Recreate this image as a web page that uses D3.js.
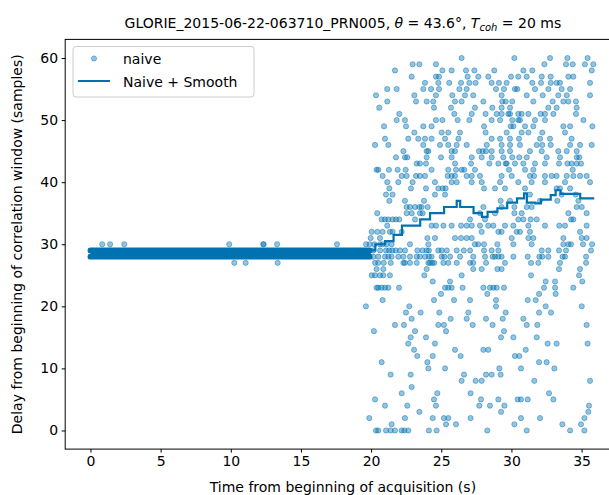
<!DOCTYPE html>
<html lang="en">
<head>
<meta charset="UTF-8">
<title>GLORIE_2015-06-22-063710_PRN005 delay</title>
<script src="https://d3js.org/d3.v7.min.js"></script>
<style>
  body { margin: 0; background: #fff; }
  svg { display: block; font-family: "DejaVu Sans", sans-serif; }
  .tick text { font-size: 14px; fill: #000; }
  .tick line { stroke: #000; }
</style>
</head>
<body>
<svg width="609" height="495"></svg>
<script>
// axis ticks
const xTicks = [0, 5, 10, 15, 20, 25, 30, 35];
const yTicks = [0, 10, 20, 30, 40, 50, 60];

// 0-20 s: the naive estimate sits on 28 / 29 samples (solid band of dots)
const bandDelays = [28, 29];
const bandTimes = [0, 19.9];

// naive estimate, one entry per delay value: [delay (samples), times (s)]
const naiveRows = [
  [60, [26.45, 30.21, 32.75, 33.99, 35.43]],
  [59, [22.96, 23.44, 24.62, 32.35, 33.89, 34.37, 35.24, 35.84]],
  [58, [21.70, 25.08, 25.74, 26.76, 27.36, 28.78, 30.85, 31.49, 35.72]],
  [57, [22.89, 24.62, 24.84, 26.88, 27.64, 28.35, 29.97, 30.49, 31.09, 32.16, 32.80, 34.06, 34.41]],
  [56, [23.84, 24.79, 25.57, 26.41, 27.00, 27.45, 28.59, 29.11, 29.66, 31.49, 32.11, 32.80, 33.22, 33.46, 35.60]],
  [55, [21.15, 21.82, 23.72, 24.27, 24.84, 26.29, 26.81, 28.90, 29.47, 30.25, 30.42, 31.68, 32.63, 33.58, 34.18]],
  [54, [20.35, 23.08, 24.62, 25.79, 26.69, 27.28, 29.30, 31.09, 32.23, 33.34, 33.94, 35.60]],
  [53, [21.15, 23.20, 23.96, 24.43, 25.98, 26.45, 28.00, 29.35, 29.59, 30.06, 31.56, 32.94, 33.70, 34.06, 34.60]],
  [52, [20.58, 24.48, 25.69, 27.40, 28.64, 29.30, 29.90, 32.63, 33.22, 34.65]],
  [51, [22.01, 25.93, 27.17, 28.16, 28.95, 29.30, 29.78, 29.90, 30.49, 30.73, 31.21, 32.08, 32.39, 32.99, 34.60]],
  [50, [21.82, 22.41, 24.62, 25.08, 26.17, 27.00, 28.59, 29.19, 30.06, 30.49, 30.61, 31.68, 32.39, 35.13]],
  [49, [20.92, 22.49, 23.72, 24.31, 28.05, 29.95, 30.14, 30.97, 31.56, 33.70, 34.18, 35.77]],
  [48, [23.08, 25.03, 25.50, 26.33, 28.16, 29.66, 30.73, 31.21, 32.20, 33.82]],
  [47, [20.99, 22.65, 23.36, 23.84, 24.31, 25.27, 26.22, 28.59, 29.19, 29.90, 30.54, 32.04, 32.75, 34.29]],
  [46, [20.28, 21.23, 23.72, 24.91, 25.50, 26.10, 26.81, 28.24, 29.30, 29.90, 30.61, 31.80, 32.20, 32.80, 34.18, 34.89, 35.72]],
  [45, [22.30, 23.96, 24.08, 25.74, 25.98, 27.69, 27.95, 28.19, 28.59, 29.30, 29.90, 31.32, 32.16, 33.34, 33.94, 34.65]],
  [44, [21.77, 22.41, 22.58, 23.96, 24.98, 25.74, 27.17, 27.88, 28.59, 29.42, 30.06, 30.56, 31.09, 32.51, 33.46, 34.65, 34.84]],
  [43, [23.25, 23.48, 23.91, 25.98, 27.12, 28.43, 29.07, 29.59, 29.66, 30.25, 30.85, 31.68, 32.39, 33.39, 33.99, 34.29, 34.65, 34.96]],
  [42, [20.39, 20.51, 21.27, 21.89, 22.46, 24.31, 25.50, 26.05, 26.45, 26.64, 27.40, 29.83, 30.97, 31.56, 34.37]],
  [41, [20.82, 22.18, 22.53, 23.20, 23.48, 23.84, 25.46, 25.74, 25.98, 26.81, 27.17, 27.76, 29.30, 30.02, 31.32, 31.61, 32.39, 32.87, 33.22, 33.94, 34.41, 34.89, 35.36]],
  [40, [21.15, 21.94, 22.96, 24.55, 25.74, 26.10, 27.17, 27.88, 29.19, 30.49, 31.44, 32.39, 33.82, 35.60]],
  [39, [21.30, 22.84, 23.91, 24.79, 25.10, 25.31, 28.05, 28.83, 29.54, 30.97, 33.22, 33.46, 34.18]],
  [38, [21.06, 21.53, 24.55, 25.27, 31.32, 33.58, 34.58]],
  [37, [21.30, 22.41, 23.77, 29.23, 29.90, 32.04, 33.27, 34.77]],
  [36, [22.53, 22.77, 23.13, 23.44, 23.60, 24.03, 28.00, 29.30, 30.21, 31.09, 31.44, 34.65, 35.01]],
  [35, [20.44, 22.53, 22.89, 23.48, 23.67, 27.76, 28.83, 30.21, 30.73, 34.06, 35.36]],
  [34, [20.75, 20.99, 21.23, 21.53, 21.77, 22.01, 23.13, 27.05, 28.12, 30.49, 30.85, 31.37, 31.80, 34.25, 34.41]],
  [33, [21.15, 24.31, 24.62, 25.15, 25.74, 26.41, 26.81, 27.17, 27.76, 28.35, 28.71, 29.54, 30.14, 31.21, 32.39, 33.41, 33.82, 35.36]],
  [32, [20.04, 20.44, 20.82, 21.34, 21.53, 22.18, 27.88, 29.07, 29.30, 30.37, 30.61, 31.32, 34.89]],
  [31, [19.97, 20.63, 24.01, 24.55, 25.98, 26.41, 26.81, 27.17, 30.02, 31.21, 31.56, 33.70, 35.01, 35.36]],
  [30, [0.84, 1.40, 2.41, 9.89, 12.32, 12.34, 13.30, 17.57, 19.64, 19.90, 20.24, 20.63, 20.82, 21.10, 21.46, 22.77, 24.08, 27.40, 27.64, 28.05, 29.00, 30.14, 31.44, 33.70, 34.06, 34.24, 35.10, 35.75]],
  [29, [20.16, 20.64, 21.06, 21.28, 21.51, 21.75, 22.06, 22.42, 23.30, 23.66, 23.96, 24.12, 24.79, 25.03, 25.39, 26.10, 26.60, 27.05, 28.05, 28.59, 29.07, 32.16, 32.63, 33.39, 33.89, 35.67]],
  [28, [20.16, 20.51, 20.99, 21.23, 21.46, 21.94, 22.30, 22.77, 23.25, 23.48, 23.84, 24.12, 24.31, 25.03, 25.22, 25.63, 26.34, 27.28, 28.12, 28.66, 28.83, 29.07, 29.30, 30.14, 31.16, 31.99, 32.20, 32.63, 33.65, 33.82, 35.32]],
  [27, [10.25, 11.06, 13.34, 20.28, 20.51, 20.90, 21.40, 22.30, 22.41, 22.77, 23.25, 24.08, 24.20, 24.36, 24.50, 25.15, 25.50, 26.10, 27.05, 27.28, 28.19, 29.54, 31.40, 31.92, 33.46, 35.32]],
  [26, [20.39, 20.87, 23.96, 27.28, 27.88, 29.00, 29.30, 33.39, 34.89]],
  [25, [20.04, 20.28, 20.63, 20.87, 21.34, 23.79, 26.45, 31.40, 34.82]],
  [24, [24.39, 25.62, 32.44, 33.11, 35.05]],
  [23, [20.39, 20.51, 20.75, 20.99, 21.23, 21.99, 25.27, 25.50, 25.74, 26.52, 28.00, 28.47, 28.71, 28.95, 29.47, 32.32, 33.11, 34.41]],
  [22, [24.98, 28.28, 31.97, 33.15]],
  [21, [20.82, 24.48, 25.91, 27.05, 28.90, 31.16, 31.73]],
  [20, [19.63, 22.72, 28.90, 32.44, 35.01]],
  [19, [22.49, 23.53, 24.86, 26.93, 29.59, 31.97, 32.82]],
  [18, [22.89, 25.67, 26.81, 28.19, 29.38, 30.85]],
  [17, [21.70, 22.34, 24.79, 25.19, 27.24, 28.66, 31.09, 31.85, 35.36]],
  [16, [20.20, 23.13, 25.34, 29.47]],
  [15, [22.82, 23.91, 29.26, 30.14, 31.80]],
  [14, [22.65, 24.55, 32.58, 33.22, 35.43]],
  [13, [23.06, 25.98, 28.00, 28.35, 31.02]],
  [12, [23.29, 24.39, 26.38, 30.25, 30.56]],
  [11, [20.75, 24.01, 31.97, 32.51]],
  [10, [24.08, 25.27, 29.14, 30.68, 33.06]],
  [9, [21.39, 22.82, 26.62, 28.19, 28.59, 29.23]],
  [8, [26.45, 27.45, 27.88, 31.63, 35.60]],
  [7, [22.89]],
  [6, [22.18, 24.72, 27.09, 32.68]],
  [5, [20.28, 24.48, 27.83, 29.07, 30.44, 30.68, 31.16, 32.99]],
  [4, [20.99, 22.58, 24.62, 27.71, 28.47, 29.50, 35.53]],
  [3, [23.44, 29.26, 35.48]],
  [2, [19.87, 22.41, 24.39, 25.19, 25.50, 27.09, 30.68, 32.04, 35.20]],
  [1, [21.46, 25.34, 26.05, 30.21, 33.63, 34.96]],
  [0, [20.35, 20.51, 21.06, 21.39, 21.70, 22.18, 22.37, 22.65, 24.12, 24.67, 28.28, 31.09, 34.18, 35.20]]
];

// naive + smooth (step line)
const smoothTimes = [0, 19.9, 20.3, 21.0, 21.6, 22.2, 23.5, 24.2, 25.2, 26.1, 26.35, 27.3, 27.9, 28.3, 29.0, 29.7, 30.4, 30.9, 31.1, 31.7, 32.1, 32.8, 33.15, 33.5, 34.9, 35.9];
const smoothDelays = [28.5, 29, 30, 30.5, 31.5, 33, 34, 35, 36, 37, 36, 35, 34.4, 35.2, 35.8, 36.7, 37.4, 38.2, 36.7, 36.6, 37.2, 37.9, 38.7, 38.1, 37.4, 37.4];

const blue = "#0072b2";
const dotR = 2.6;

const svg = d3.select("svg");

// axes box runs past the right edge of the picture (cropped figure)
const x = d3.scaleLinear().domain([-1.8, 37.78]).range([65.2, 620.6]);
const y = d3.scaleLinear().domain([-3, 63]).range([449.1, 39.4]);

const naive = naiveRows.flatMap(([delay, times]) => times.map(t => ({ t, delay })));
const smooth = smoothTimes.map((t, i) => ({ t, delay: smoothDelays[i] }));

// band of dots for 0-20 s
svg.append("g").selectAll("line")
  .data(bandDelays)
  .enter().append("line")
  .attr("x1", x(bandTimes[0]))
  .attr("x2", x(bandTimes[1]))
  .attr("y1", d => y(d))
  .attr("y2", d => y(d))
  .attr("stroke", blue)
  .attr("stroke-width", 5.8)
  .attr("stroke-linecap", "round");

svg.append("g").selectAll("circle")
  .data(naive)
  .enter().append("circle")
  .attr("cx", d => x(d.t))
  .attr("cy", d => y(d.delay))
  .attr("r", dotR)
  .attr("fill", blue)
  .attr("fill-opacity", 0.42)
  .attr("stroke", blue)
  .attr("stroke-opacity", 0.45)
  .attr("stroke-width", 1);

svg.append("path")
  .datum(smooth)
  .attr("fill", "none")
  .attr("stroke", blue)
  .attr("stroke-width", 2.2)
  .attr("d", d3.line().x(d => x(d.t)).y(d => y(d.delay)).curve(d3.curveStepAfter));

// frame
svg.append("rect")
  .attr("x", x.range()[0]).attr("y", y.range()[1])
  .attr("width", x.range()[1] - x.range()[0])
  .attr("height", y.range()[0] - y.range()[1])
  .attr("fill", "none").attr("stroke", "#000").attr("stroke-width", 1);

const xAxis = svg.append("g")
  .attr("transform", `translate(0,${y.range()[0]})`)
  .call(d3.axisBottom(x).tickValues(xTicks).tickSize(3.5).tickPadding(3.5));
xAxis.select(".domain").remove();

const yAxis = svg.append("g")
  .attr("transform", `translate(${x.range()[0]},0)`)
  .call(d3.axisLeft(y).tickValues(yTicks).tickSize(3.5).tickPadding(3.5));
yAxis.select(".domain").remove();
svg.selectAll(".tick text").attr("font-family", "DejaVu Sans").style("font-size", "14px");

// axis labels
svg.append("text")
  .attr("x", (65.2 + 620.6) / 2).attr("y", 492)
  .attr("text-anchor", "middle").style("font-size", "14px")
  .text("Time from beginning of acquisition (s)");

svg.append("text")
  .attr("transform", `translate(22,${(y.range()[0] + y.range()[1]) / 2}) rotate(-90)`)
  .attr("text-anchor", "middle").style("font-size", "14px")
  .text("Delay from beginning of correlation window (samples)");

// title
const title = svg.append("text")
  .attr("x", (65.2 + 620.6) / 2).attr("y", 28)
  .attr("text-anchor", "middle").style("font-size", "14px");
title.append("tspan").text("GLORIE_2015-06-22-063710_PRN005, ");
title.append("tspan").style("font-style", "italic").text("θ");
title.append("tspan").text(" = 43.6°, ");
title.append("tspan").style("font-style", "italic").text("T");
title.append("tspan").style("font-style", "italic").style("font-size", "10px").attr("dy", 3).text("coh");
title.append("tspan").attr("dy", -3).text(" = 20 ms");

// legend
const legend = svg.append("g");
legend.append("rect")
  .attr("x", 73).attr("y", 46.5).attr("width", 181).attr("height", 50.5)
  .attr("rx", 3).attr("fill", "#fff").attr("fill-opacity", 0.8)
  .attr("stroke", "#ccc").attr("stroke-width", 1);
legend.append("circle")
  .attr("cx", 94).attr("cy", 58.5).attr("r", dotR)
  .attr("fill", blue).attr("fill-opacity", 0.42)
  .attr("stroke", blue).attr("stroke-opacity", 0.45);
legend.append("line")
  .attr("x1", 78).attr("x2", 110).attr("y1", 81).attr("y2", 81)
  .attr("stroke", blue).attr("stroke-width", 2);
legend.append("text").attr("x", 123).attr("y", 63.5).style("font-size", "14px").text("naive");
legend.append("text").attr("x", 123).attr("y", 86.5).style("font-size", "14px").text("Naive + Smooth");
</script>
</body>
</html>
